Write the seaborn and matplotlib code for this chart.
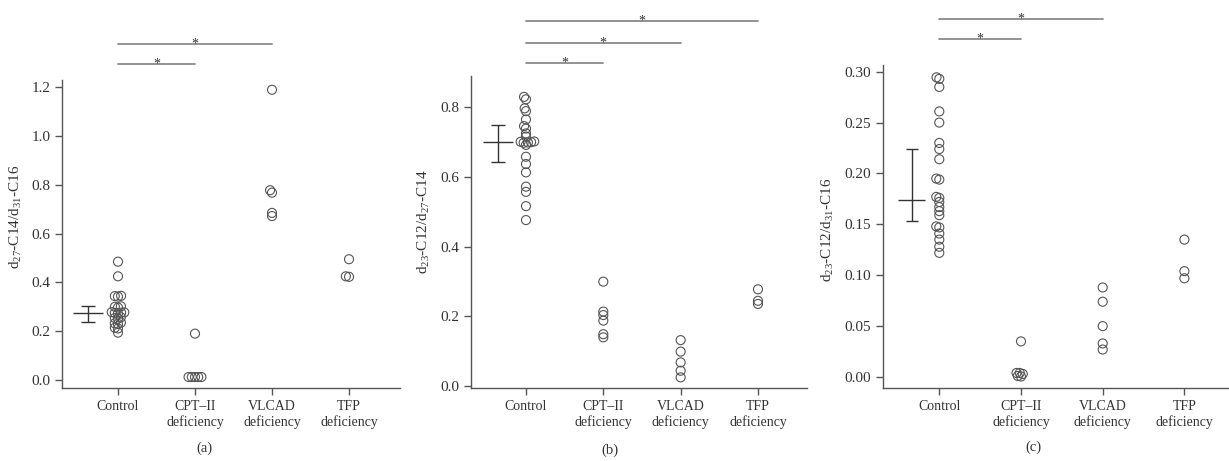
import matplotlib
matplotlib.use("Agg")
import matplotlib.pyplot as plt
import seaborn as sns
import pandas as pd
from matplotlib.ticker import FormatStrFormatter, MultipleLocator

# ---------------- data ----------------
groups = ["Control", "CPT–II\ndeficiency", "VLCAD\ndeficiency", "TFP\ndeficiency"]

# (a) d27-C14 / d31-C16
a_control = [0.485, 0.425, 0.345, 0.344, 0.342, 0.302, 0.300, 0.297, 0.278, 0.277,
             0.276, 0.275, 0.273, 0.257, 0.254, 0.251, 0.235, 0.232, 0.230, 0.214,
             0.211, 0.194]
a_cpt = [0.190, 0.012, 0.012, 0.012, 0.012, 0.012]
a_vlcad = [1.190, 0.778, 0.768, 0.685, 0.672]
a_tfp = [0.495, 0.425, 0.423]
a_err = [0.276, 0.238, 0.303]          # centre, low, high of control
a_sig = [(0, 2), (0, 1)]

# (b) d23-C12 / d27-C14
b_control = [0.830, 0.823, 0.797, 0.789, 0.765, 0.746, 0.739, 0.725, 0.716, 0.702,
             0.701, 0.700, 0.699, 0.698, 0.692, 0.658, 0.637, 0.613, 0.572, 0.557,
             0.516, 0.476]
b_cpt = [0.299, 0.213, 0.203, 0.187, 0.148, 0.139]
b_vlcad = [0.131, 0.098, 0.067, 0.043, 0.024]
b_tfp = [0.277, 0.244, 0.235]
b_err = [0.700, 0.644, 0.749]
b_sig = [(0, 3), (0, 2), (0, 1)]

# (c) d23-C12 / d31-C16
c_control = [0.2945, 0.293, 0.285, 0.261, 0.250, 0.230, 0.224, 0.214, 0.195, 0.194,
             0.177, 0.176, 0.172, 0.167, 0.163, 0.159, 0.148, 0.147, 0.141, 0.135,
             0.128, 0.122]
c_cpt = [0.035, 0.004, 0.004, 0.003, 0.001, 0.0005]
c_vlcad = [0.088, 0.074, 0.050, 0.033, 0.027]
c_tfp = [0.135, 0.104, 0.097]
c_err = [0.174, 0.153, 0.224]
c_sig = [(0, 2), (0, 1)]

# ---------------- style ----------------
sns.set_theme(style="ticks")
plt.rcParams["font.family"] = ["Liberation Serif", "DejaVu Serif"]
plt.rcParams["mathtext.fontset"] = "custom"
plt.rcParams["mathtext.rm"] = "Liberation Serif"
plt.rcParams["mathtext.it"] = "Liberation Serif:italic"
plt.rcParams["mathtext.bf"] = "Liberation Serif:bold"

INK = "#333333"
AXC = "#555555"
LINEC = "#8a8a8a"

fig = plt.figure(figsize=(12.29, 4.61), dpi=100)
W, H = 1229, 461


def px_axes(left, right, top, bottom):
    return fig.add_axes([left / W, 1 - bottom / H, (right - left) / W, (bottom - top) / H])


panels = [
    dict(vals=[a_control, a_cpt, a_vlcad, a_tfp], err=a_err, sig=a_sig,
         box=(62, 400, 80, 388), xlim=(-0.727, 3.662), ylim=(-0.033, 1.23),
         step=0.2, fmt="%.1f", sig_y=[1.377, 1.295], err_x=-0.39, half=0.19, cap=4.7,
         ylabel=r"d$_{27}$-C14/d$_{31}$-C16", lab=(-0.112, 0.555), tag="(a)", tag_xy=(204, 448)),
    dict(vals=[b_control, b_cpt, b_vlcad, b_tfp], err=b_err, sig=b_sig,
         box=(471, 806.7, 76, 388), xlim=(-0.711, 3.63), ylim=(-0.0066, 0.890),
         step=0.2, fmt="%.1f", sig_y=[1.048, 0.984, 0.926], err_x=-0.36, half=0.19, cap=4.7,
         ylabel=r"d$_{23}$-C12/d$_{27}$-C14", lab=(-0.116, 0.533), tag="(b)", tag_xy=(610, 450)),
    dict(vals=[c_control, c_cpt, c_vlcad, c_tfp], err=c_err, sig=c_sig,
         box=(883, 1229, 65, 388), xlim=(-0.689, 3.546), ylim=(-0.0108, 0.3066),
         step=0.05, fmt="%.2f", sig_y=[0.352, 0.332], err_x=-0.34, half=0.16, cap=4.6,
         ylabel=r"d$_{23}$-C12/d$_{31}$-C16", lab=(-0.136, 0.491), tag="(c)", tag_xy=(1033, 447)),
]

swarms = []
for p in panels:
    ax = px_axes(*p["box"])
    df = pd.DataFrame({
        "group": sum([[g] * len(v) for g, v in zip(groups, p["vals"])], []),
        "value": sum(p["vals"], []),
    })
    # lay the swarm out with small markers so the circles overlap like the original
    sns.swarmplot(data=df, x="group", y="value", order=groups, ax=ax,
                  size=2.2, color=AXC)
    swarms += list(ax.collections)

    m, lo, hi = p["err"]
    ax.errorbar([p["err_x"]], [m], yerr=[[m - lo], [hi - m]], fmt="none",
                ecolor=INK, elinewidth=1.0, capsize=p["cap"], capthick=1.0)
    ax.hlines(m, p["err_x"] - p["half"], p["err_x"] + p["half"], color=INK, lw=1.0)

    for (i, j), y in zip(p["sig"], p["sig_y"]):
        ax.plot([i, j], [y, y], color=LINEC, lw=1.3, clip_on=False)
        ax.annotate("*", xy=((i + j) / 2, y), xytext=(0, -2.5), textcoords="offset points",
                    ha="center", va="baseline", fontsize=10, color=INK,
                    annotation_clip=False)

    ax.set_xlim(*p["xlim"])
    ax.set_ylim(*p["ylim"])
    ax.yaxis.set_major_locator(MultipleLocator(p["step"]))
    ax.yaxis.set_major_formatter(FormatStrFormatter(p["fmt"]))
    ax.set_xlabel("")
    ax.set_ylabel(p["ylabel"], fontsize=11, color=INK)
    ax.yaxis.set_label_coords(*p["lab"])
    ax.tick_params(axis="both", direction="out", length=5, width=1.0, color=AXC,
                   labelcolor=INK, pad=3.5)
    ax.tick_params(axis="x", labelsize=10)
    ax.tick_params(axis="y", labelsize=11)
    sns.despine(ax=ax)
    for s in ["left", "bottom"]:
        ax.spines[s].set_color(AXC)
        ax.spines[s].set_linewidth(1.0)
    fig.text(p["tag_xy"][0] / W, 1 - p["tag_xy"][1] / H, p["tag"], ha="center",
             va="center", fontsize=10.5, color=INK)

# fix the swarm positions, then grow the markers to their real size
fig.canvas.draw()
for coll in swarms:
    if "draw" in coll.__dict__:
        del coll.draw
    coll.set_sizes([6.5 ** 2])
    coll.set_facecolor("none")
    coll.set_edgecolor(AXC)
    coll.set_linewidth(0.8)

fig.savefig("out.png", dpi=100)
